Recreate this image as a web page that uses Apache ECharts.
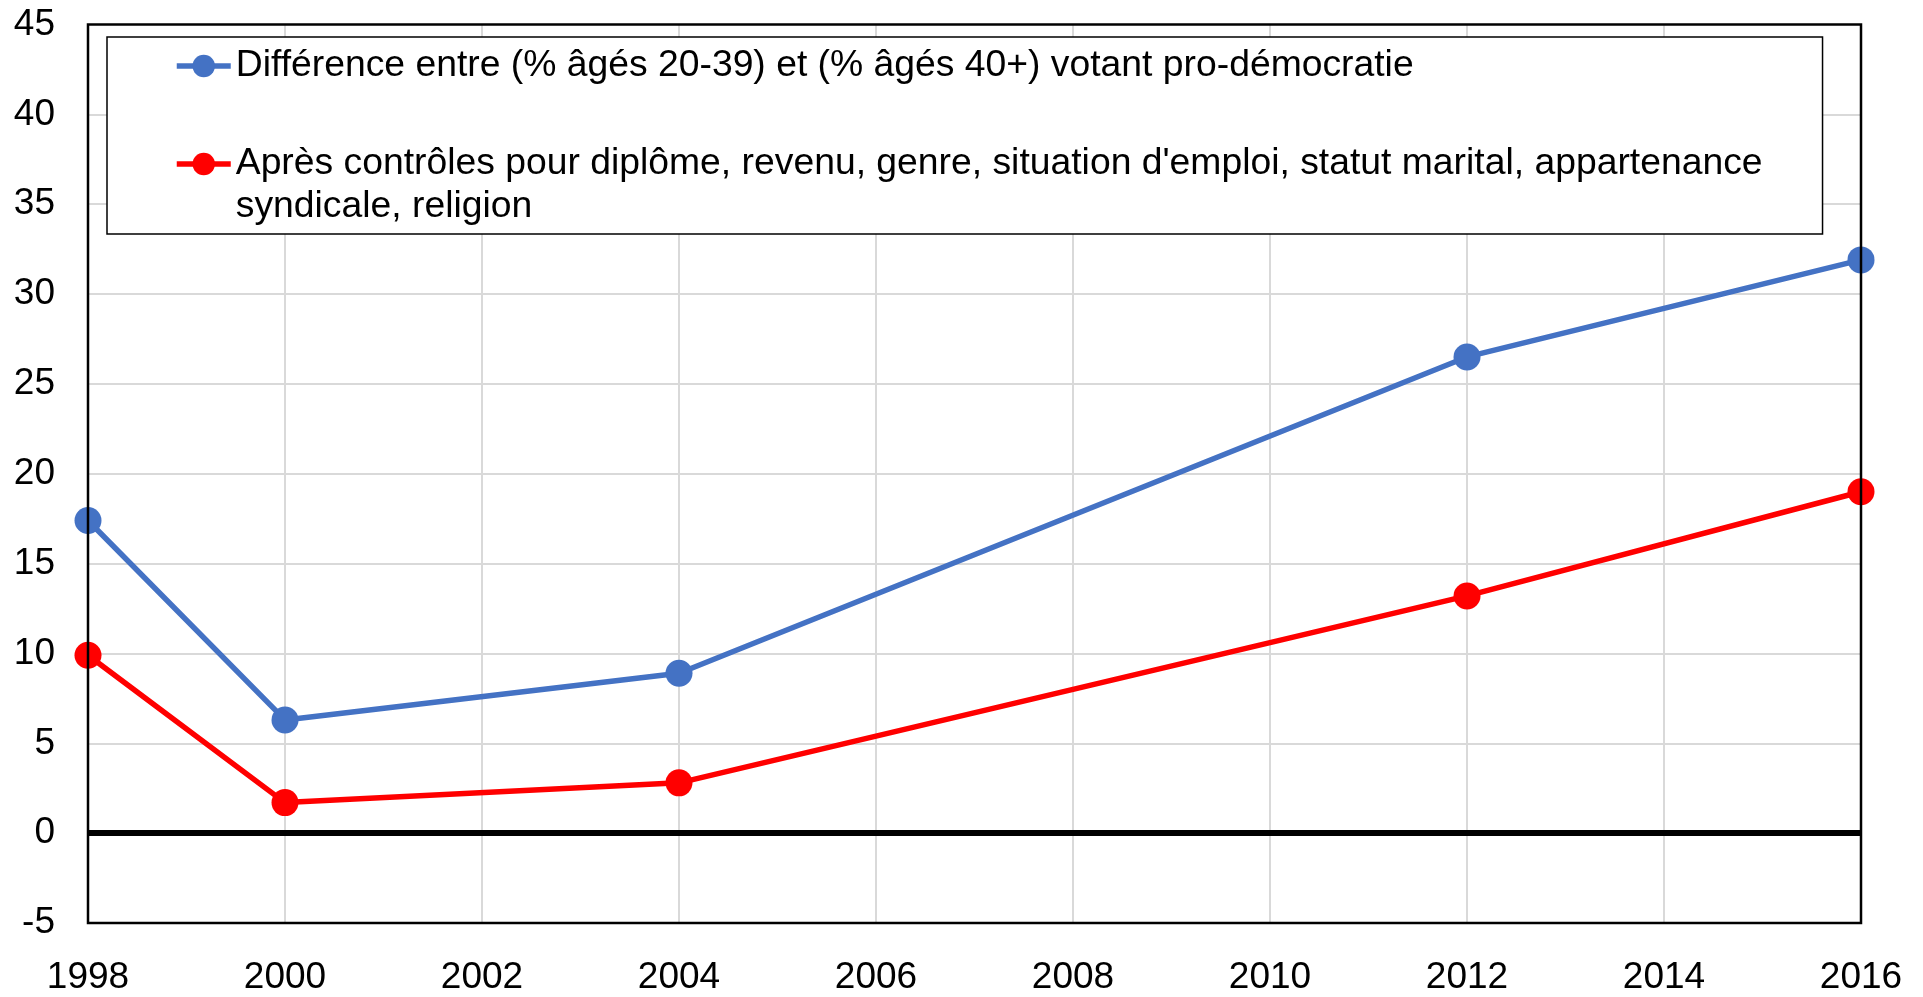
<!DOCTYPE html>
<html>
<head>
<meta charset="utf-8">
<title>Vote pro-démocratie par âge</title>
<script src="https://cdn.jsdelivr.net/npm/echarts@6/dist/echarts.min.js"></script>
<style>
  html, body { margin: 0; padding: 0; background: #fff; }
  #chart { width: 1923px; height: 997px; }
</style>
</head>
<body>
<div id="chart"></div>
<script>
// données
var years = [1998, 2000, 2004, 2012, 2016];
var ecartBrut = [17.4, 6.3, 8.9, 26.5, 31.9];
var ecartControle = [9.9, 1.7, 2.8, 13.2, 19.0];

var nomBrut = 'Différence entre (% âgés 20-39) et (% âgés 40+) votant pro-démocratie';
var nomControle = "Après contrôles pour diplôme, revenu, genre, situation d'emploi, statut marital, appartenance\nsyndicale, religion";

var FONT = "'Liberation Sans', Arial, sans-serif";

function pairs(xs, ys) {
    return xs.map(function (x, i) { return [x, ys[i]]; });
}

var chart = echarts.init(document.getElementById('chart'));

chart.setOption({
    animation: false,
    textStyle: { fontFamily: FONT },
    grid: {
        left: 88, right: 62, top: 24.5, bottom: 74,
        show: true, borderColor: '#000', borderWidth: 2.5, z: 5
    },
    legend: {
        orient: 'vertical',
        left: 107,
        top: 37,
        padding: [7.5, 60, 5.5, 67],
        itemGap: 12,
        itemWidth: 54,
        itemHeight: 28,
        backgroundColor: '#fff',
        borderColor: '#000',
        borderWidth: 1.5,
        lineStyle: { width: 5.5 },
        data: [nomBrut, nomControle],
        // ligne vide en tête : le symbole reste sur la première ligne du texte
        formatter: function (name) {
            return name === nomControle ? '\n' + name : name;
        },
        textStyle: { fontSize: 37.3, lineHeight: 43, color: '#000', fontFamily: FONT }
    },
    xAxis: {
        type: 'value',
        min: 1998, max: 2016, interval: 2,
        axisLine: { show: false },
        axisTick: { show: false },
        axisLabel: {
            fontSize: 37, color: '#000', margin: 36, fontFamily: FONT,
            formatter: function (v) { return String(v); }
        },
        splitLine: {
            show: true, showMinLine: false, showMaxLine: false,
            lineStyle: { color: '#d9d9d9', width: 2 }
        }
    },
    yAxis: {
        type: 'value',
        min: -5, max: 45, interval: 5,
        axisLine: { show: false },
        axisTick: { show: false },
        axisLabel: { fontSize: 37, color: '#000', margin: 33, fontFamily: FONT },
        splitLine: {
            show: true, showMinLine: false, showMaxLine: false,
            lineStyle: { color: '#d9d9d9', width: 2 }
        }
    },
    series: [
        {
            name: nomBrut,
            type: 'line',
            data: pairs(years, ecartBrut),
            symbol: 'circle',
            symbolSize: 27,
            color: '#4472C4',
            lineStyle: { width: 5.5, color: '#4472C4' },
            z: 3,
            markLine: {
                silent: true,
                symbol: 'none',
                label: { show: false },
                lineStyle: { color: '#000', width: 6, type: 'solid' },
                data: [[{ coord: [1998, 0] }, { coord: [2016, 0] }]],
                z: 2
            }
        },
        {
            name: nomControle,
            type: 'line',
            data: pairs(years, ecartControle),
            symbol: 'circle',
            symbolSize: 27,
            color: '#FF0000',
            lineStyle: { width: 5.5, color: '#FF0000' },
            z: 3
        }
    ]
});
</script>
</body>
</html>
